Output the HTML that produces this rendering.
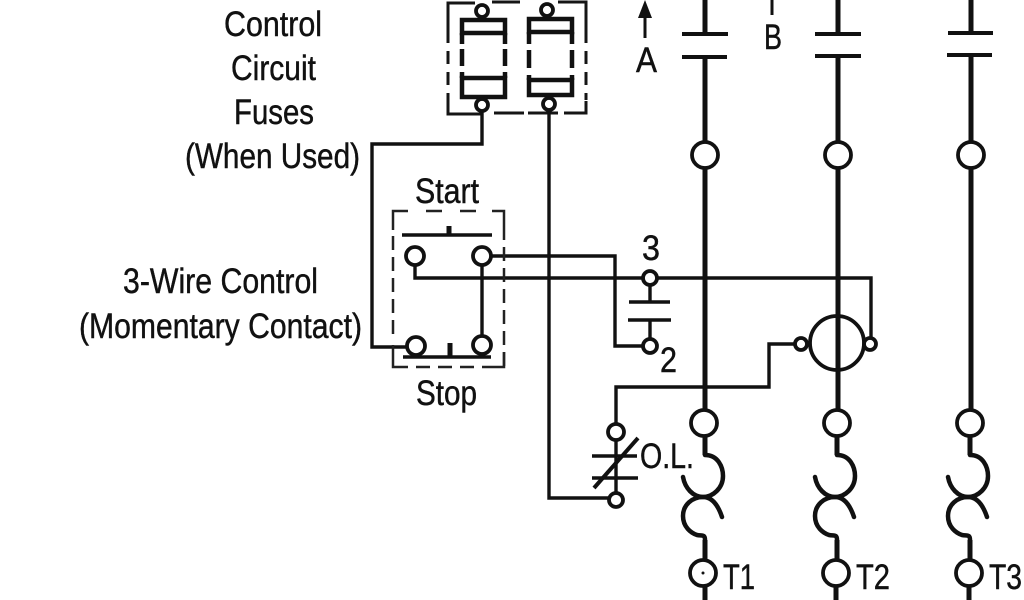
<!DOCTYPE html>
<html><head><meta charset="utf-8"><style>
html,body{margin:0;padding:0;background:#fff;width:1024px;height:600px;overflow:hidden}
svg{display:block}
text{font-family:"Liberation Sans",sans-serif;font-size:35px;fill:#111;stroke:#111;stroke-width:.45px}
</style></head><body>
<svg width="1024" height="600" viewBox="0 0 1024 600" xmlns="http://www.w3.org/2000/svg">
<defs>
<g id="fuse" fill="none" stroke="#111" stroke-width="4.5" stroke-linecap="round">
<path d="M705 455C718 455 723 467 723 476C723 488 713 497 703 497C693 497 685 488 683 477"/>
<path d="M722 517C718 505 712 497 703 497C692 497 683 505 683 516C683 527 691 533 697 535C702 536 705 534 705 540"/>
</g>
</defs>
<!-- fuse box -->
<g fill="none" stroke="#151515" stroke-width="3">
<path d="M448 30V3H475M492 2H520M558 2H586V30"/>
<path d="M586 30V100" stroke-dasharray="13 8"/>
<path d="M448 30V104" stroke-dasharray="13 8"/>
<path d="M448 104V114H482M494 113H524M528 113H558M564 113H586V101"/>
</g>
<g fill="none" stroke="#111" stroke-width="4.5">
<rect x="462" y="20" width="43" height="13"/>
<rect x="462" y="78" width="43" height="19"/>
<rect x="529" y="19" width="43" height="13"/>
<rect x="529" y="80" width="43" height="15"/>
<path d="M462 33V44M505 33V44M462 49V66M505 49V66M462 72V78M505 72V78M529 32V44M572 32V44M529 50V68M572 50V68M529 75V80M572 75V80"/>
</g>
<!-- control wiring -->
<g fill="none" stroke="#111" stroke-width="3.4">
<path d="M482 111V144H372V347H406"/>
<path d="M549 110V498H608"/>
<path d="M491 256H615V346H643"/>
<path d="M415 265V278H643M658 278H871V338"/>
<path d="M482 265V336"/>
<path d="M650 285V302M650 320V339"/>
<path d="M795 344H769V387H616V424"/>
<path d="M616 440V492"/>
<path d="M402 235H492M403 357H491"/>
<path d="M629 302H670M628 320H671"/>
<path d="M592 456H637M592 478H638"/>
<path d="M638 438L594 488" stroke-width="4"/>
</g>
<path d="M449 235V226M450 357V343" stroke="#111" stroke-width="5" fill="none"/>
<!-- start stop box -->
<g fill="none" stroke="#222" stroke-width="2.5">
<path d="M393 230V211H408M426 211H442M460 211H476M492 211H504V226"/>
<path d="M504 226V367" stroke-dasharray="14 7"/>
<path d="M393 236V340" stroke-dasharray="14 7"/>
<path d="M393 345V367H408M416 367H430M438 367H452M460 367H474M482 367H504V352"/>
</g>
<!-- main verticals -->
<g fill="none" stroke="#111">
<g stroke-width="5">
<path d="M705 0V34M705 57V142M705 168V410M705 436V455M705 540V560M705 586V600"/>
<path d="M838 0V34M838 56V142M838 168V410M837 436V455M837 540V560M836 586V600"/>
<path d="M971 0V33M971 55V142M971 168V410M970 436V455M970 540V560M969 586V600"/>
</g>
<path stroke-width="4" d="M682 34H728M682 57H727M815 34H861M815 56H861M948 33H993M947 55H992"/>
</g>
<use href="#fuse"/>
<use href="#fuse" x="132"/>
<use href="#fuse" x="265"/>
<!-- circles -->
<g fill="#fff" stroke="#111" stroke-width="3.8">
<circle cx="482" cy="11" r="6"/><circle cx="547" cy="10" r="6"/>
<circle cx="482" cy="105" r="6"/><circle cx="549" cy="104" r="6"/>
<circle cx="415" cy="256" r="9"/><circle cx="482" cy="256" r="9"/>
<circle cx="416" cy="346" r="9"/><circle cx="482" cy="345" r="9"/>
<circle cx="650" cy="278" r="7"/><circle cx="650" cy="346" r="7"/>
<circle cx="616" cy="432" r="8"/><circle cx="616" cy="500" r="7"/>
<circle cx="801" cy="344" r="6"/><circle cx="870" cy="344" r="6"/>
<circle cx="705" cy="155" r="13"/><circle cx="838" cy="155" r="13"/><circle cx="971" cy="155" r="13"/>
<circle cx="704" cy="423" r="13"/><circle cx="837" cy="423" r="13"/><circle cx="970" cy="423" r="13"/>
<circle cx="703" cy="573" r="13"/><circle cx="836" cy="573" r="13"/><circle cx="969" cy="573" r="13"/>
</g>
<circle cx="703" cy="573" r="1.5" fill="#111"/>
<!-- motor coil -->
<circle cx="837" cy="343" r="27" fill="none" stroke="#111" stroke-width="3.8"/>
<!-- arrows -->
<path d="M645 38V10" stroke="#111" stroke-width="3"/>
<path d="M645 0L652 18H638Z" fill="#111"/>
<path d="M772 0V15" stroke="#111" stroke-width="3"/>
<!-- labels -->
<text x="224" y="36" textLength="98" lengthAdjust="spacingAndGlyphs">Control</text>
<text x="231" y="80" textLength="85" lengthAdjust="spacingAndGlyphs">Circuit</text>
<text x="234" y="124" textLength="80" lengthAdjust="spacingAndGlyphs">Fuses</text>
<text x="185" y="168" textLength="175" lengthAdjust="spacingAndGlyphs">(When Used)</text>
<text x="415" y="203" textLength="64" lengthAdjust="spacingAndGlyphs">Start</text>
<text x="123" y="293" textLength="195" lengthAdjust="spacingAndGlyphs">3-Wire Control</text>
<text x="79" y="338" textLength="283" lengthAdjust="spacingAndGlyphs">(Momentary Contact)</text>
<text x="416" y="405" textLength="61" lengthAdjust="spacingAndGlyphs">Stop</text>
<text x="642" y="260" textLength="18" lengthAdjust="spacingAndGlyphs">3</text>
<text x="660" y="372" textLength="17" lengthAdjust="spacingAndGlyphs">2</text>
<text x="636" y="72" textLength="21" lengthAdjust="spacingAndGlyphs">A</text>
<text x="764" y="49" textLength="18" lengthAdjust="spacingAndGlyphs">B</text>
<text x="640" y="468" textLength="54" lengthAdjust="spacingAndGlyphs">O.L.</text>
<text x="723" y="589" textLength="32" lengthAdjust="spacingAndGlyphs">T1</text>
<text x="856" y="589" textLength="34" lengthAdjust="spacingAndGlyphs">T2</text>
<text x="989" y="589" textLength="33" lengthAdjust="spacingAndGlyphs">T3</text>
</svg>
</body></html>
